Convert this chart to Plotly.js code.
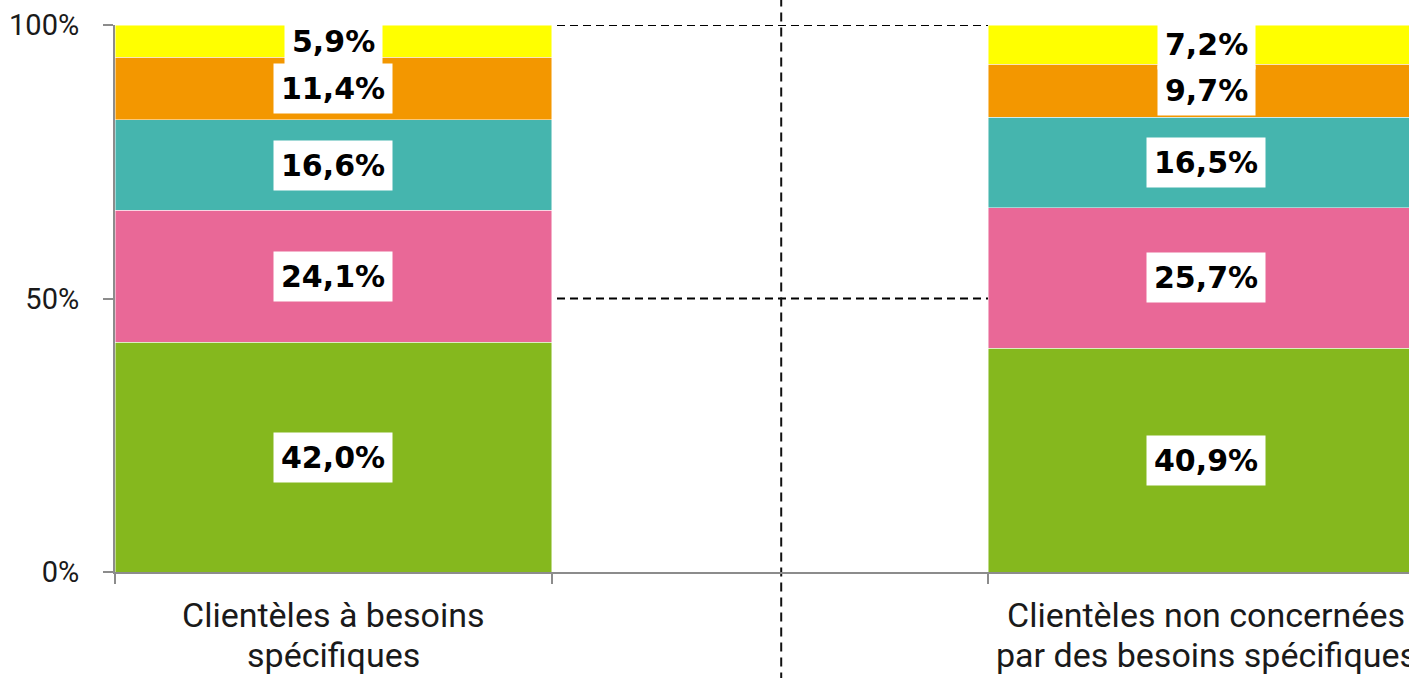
<!DOCTYPE html>
<html>
<head>
<meta charset="utf-8">
<script src="https://cdn.plot.ly/plotly-3.0.1.min.js"></script>
<style>
html,body{margin:0;padding:0;background:#fff;}
#chart{width:1409px;height:678px;}
</style>
</head>
<body>
<div id="chart"></div>
<script>
// ---- data ----
const categories = ["Clientèles à besoins spécifiques", "Clientèles non concernées par des besoins spécifiques"];
const categoryLines = [["Clientèles à besoins", "spécifiques"], ["Clientèles non concernées", "par des besoins spécifiques"]];
const seriesNames = ["Niveau 1", "Niveau 2", "Niveau 3", "Niveau 4", "Niveau 5"];
const seriesColors = ["#85B81E", "#E96897", "#45B5AE", "#F39700", "#FFFF00"];
const level1 = [42.0, 40.9];
const level2 = [24.1, 25.7];
const level3 = [16.6, 16.5];
const level4 = [11.4, 9.7];
const level5 = [5.9, 7.2];
const seriesValues = [level1, level2, level3, level4, level5];
const yTickVals = [0, 50, 100];
const yTickText = ["0%", "50%", "100%"];

// ---- layout geometry ----
const xPos = categories.map((c, i) => i);
const barWidth = 0.5;
const xRange = [-0.25, 1.232];
const dividerX = 0.513;
const edgeTicks = [-0.25, 0.25, 0.75, 1.25];

const traces = seriesValues.map((vals, s) => ({
  type: 'bar',
  x: xPos,
  y: vals,
  name: seriesNames[s],
  width: barWidth,
  marker: {color: seriesColors[s], line: {color: 'rgba(255,255,255,0.6)', width: 0.8}},
  hoverinfo: 'skip',
  showlegend: false
}));

const annotations = [];
xPos.forEach((xp, i) => {
  let base = 0;
  seriesValues.forEach((vals) => {
    const v = vals[i];
    annotations.push({
      x: xp, y: base + v / 2, xref: 'x', yref: 'y',
      text: v.toFixed(1).replace('.', ',') + '%',
      showarrow: false,
      bgcolor: '#ffffff',
      borderpad: 7,
      font: {family: 'DejaVu Sans, sans-serif', size: 30, color: '#000', weight: 'bold'}
    });
    base += v;
  });
  categoryLines[i].forEach((line, k) => {
    annotations.push({
      x: xp, xref: 'x', y: k === 0 ? -0.078 : -0.152, yref: 'paper',
      text: line, showarrow: false, yanchor: 'middle',
      font: {family: 'Roboto, sans-serif', size: 34, color: '#1a1a1a'}
    });
  });
});

const paperX = (dividerX - xRange[0]) / (xRange[1] - xRange[0]);

const gridShapes = yTickVals.filter(v => v > 0).map(v => ({
  type: 'line', xref: 'paper', yref: 'y',
  x0: 0, x1: 1, y0: v, y1: v,
  line: {color: '#000', width: 2, dash: '8px,5px'},
  layer: 'below'
}));

const layout = {
  width: 1409, height: 678,
  margin: {l: 115, r: 0, t: 25, b: 106},
  paper_bgcolor: '#fff', plot_bgcolor: '#fff',
  barmode: 'stack',
  showlegend: false,
  xaxis: {
    type: 'linear', range: xRange, fixedrange: true,
    tickvals: edgeTicks, showticklabels: false,
    ticks: 'outside', ticklen: 10, tickwidth: 2, tickcolor: '#8c8c8c',
    showline: true, linecolor: '#8c8c8c', linewidth: 2,
    showgrid: false, zeroline: false
  },
  yaxis: {
    range: [0, 100], fixedrange: true,
    tickvals: yTickVals, ticktext: yTickText,
    ticks: 'outside', ticklen: 10, tickwidth: 2, tickcolor: '#8c8c8c',
    ticklabelstandoff: 18,
    tickfont: {family: 'Roboto, sans-serif', size: 29, color: '#1a1a1a'},
    showline: true, linecolor: '#8c8c8c', linewidth: 2,
    showgrid: false, zeroline: false
  },
  shapes: gridShapes.concat([{
    type: 'line', xref: 'paper', yref: 'paper',
    x0: paperX, x1: paperX, y0: -0.2, y1: 1.05,
    line: {color: '#111', width: 2, dash: '9px,6px'},
    layer: 'below'
  }]),
  annotations: annotations
};

Plotly.newPlot('chart', traces, layout, {displayModeBar: false, staticPlot: true});
</script>
</body>
</html>
